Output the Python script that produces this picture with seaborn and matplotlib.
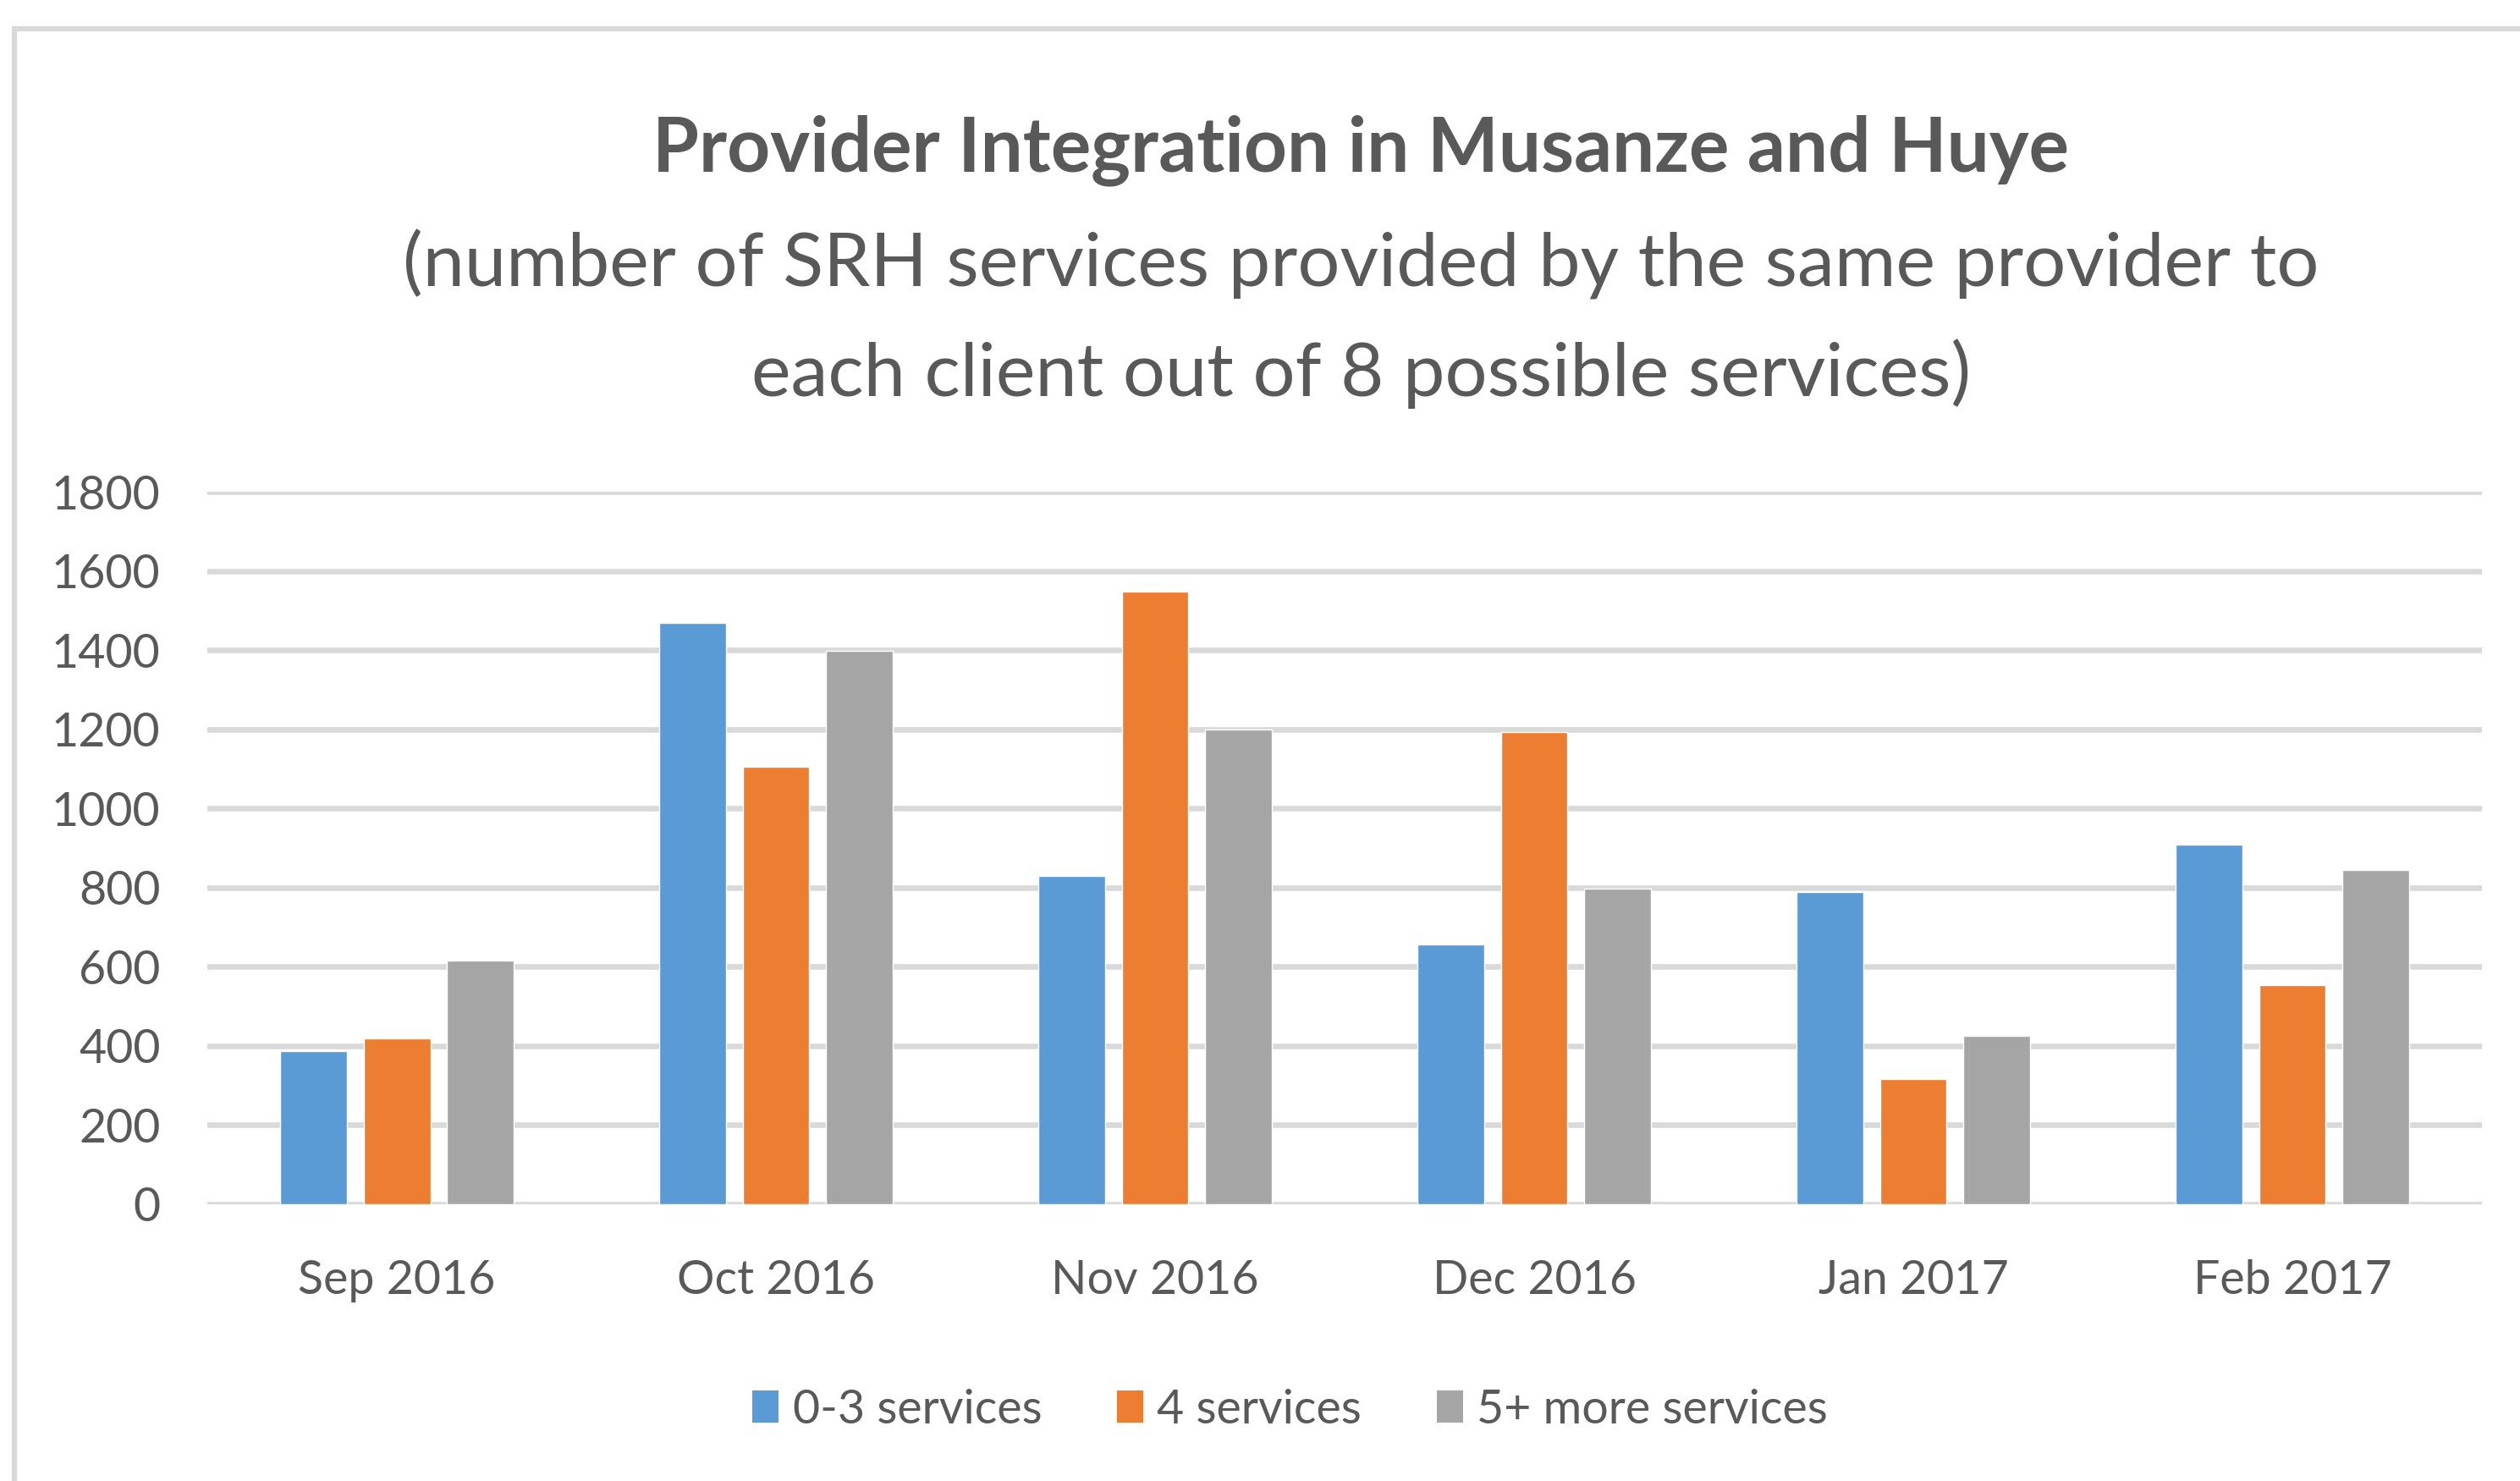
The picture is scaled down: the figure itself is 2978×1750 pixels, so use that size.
import numpy as np
import pandas as pd
import matplotlib
matplotlib.use('Agg')
import matplotlib.pyplot as plt
from matplotlib.patches import Rectangle, Patch
import seaborn as sns

# values
months = ['Sep 2016', 'Oct 2016', 'Nov 2016', 'Dec 2016', 'Jan 2017', 'Feb 2017']
groups = ['0-3 services', '4 services', '5+ more services']
svc_0_3 = [387, 1469, 829, 656, 789, 908]
svc_4 = [419, 1105, 1548, 1193, 316, 554]
svc_5plus = [616, 1398, 1199, 797, 425, 844]
colors = ['#5b9bd5', '#ed7d31', '#a5a5a5']
yticks = [0, 200, 400, 600, 800, 1000, 1200, 1400, 1600, 1800]

df = pd.DataFrame({
    'month': months * 3,
    'group': np.repeat(groups, len(months)),
    'count': svc_0_3 + svc_4 + svc_5plus,
})

sns.set_theme(style='white')
plt.rcParams['font.family'] = ['Lato', 'DejaVu Sans']
text_color = '#595959'
grid_color = '#d9d9d9'

fig = plt.figure(figsize=(29.78, 17.5), dpi=100)
ax = fig.add_axes([0.0823, 0.1869, 0.9026, 0.4811])

sns.barplot(data=df, x='month', y='count', hue='group', hue_order=groups,
            palette=colors, saturation=1, width=0.66, gap=0.2,
            ax=ax, legend=False)

ax.set_ylim(0, 1800)
ax.set_xlim(-0.5, len(months) - 0.5)
ax.set_yticks(yticks)
ax.set_axisbelow(True)
ax.yaxis.grid(True, color=grid_color, linewidth=4.7)
ax.xaxis.grid(False)
for s in ax.spines.values():
    s.set_visible(False)
ax.set_xlabel('')
ax.set_ylabel('')
ax.tick_params(axis='y', length=0, pad=40, labelsize=40, labelcolor=text_color)
ax.tick_params(axis='x', length=0, pad=47, labelsize=40, labelcolor=text_color)

# titles
fig.text(0.540, 1 - 202 / 1750, 'Provider Integration in Musanze and Huye',
         ha='center', va='baseline', fontsize=64, fontweight='bold', color=text_color)
fig.text(0.540, 1 - 338 / 1750,
         '(number of SRH services provided by the same provider to',
         ha='center', va='baseline', fontsize=63.5, color=text_color)
fig.text(0.540, 1 - 468 / 1750, 'each client out of 8 possible services)',
         ha='center', va='baseline', fontsize=63.5, color=text_color)

# legend
handles = [Patch(facecolor=c, edgecolor='none') for c in colors]
fig.legend(handles, groups, loc='center', bbox_to_anchor=(0.512, 0.048),
           ncol=3, frameon=False, fontsize=40, labelcolor=text_color,
           handlelength=0.55, handleheight=0.65, handletextpad=0.3,
           columnspacing=1.6)

# chart area border (only left/top edges are visible in the crop)
fig.patches.append(Rectangle((17 / 2978, -0.1), 1.2, 1.1 - 34 / 1750,
                             transform=fig.transFigure, fill=False,
                             edgecolor=grid_color, linewidth=4.5))

fig.savefig('out.png', dpi=100)
